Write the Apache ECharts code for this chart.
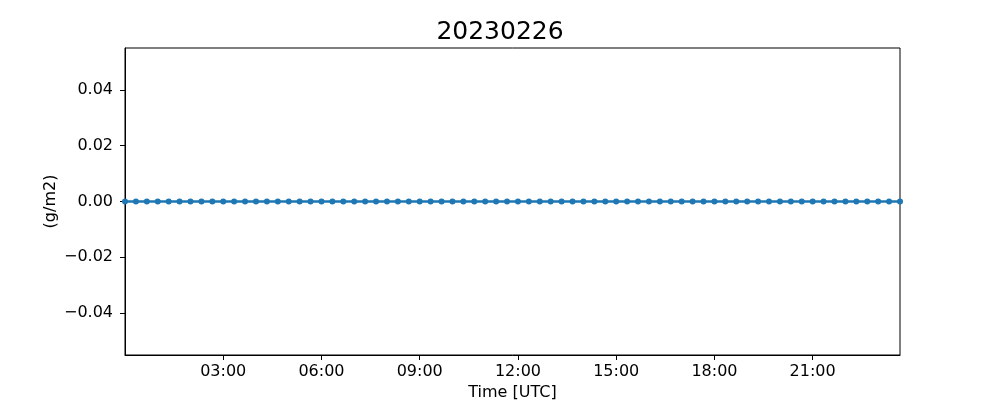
<!DOCTYPE html>
<html>
<head>
<meta charset="utf-8">
<script src="https://cdn.jsdelivr.net/npm/echarts@6/dist/echarts.min.js"></script>
<style>html,body{margin:0;padding:0;background:#fff}#c{width:1000px;height:400px}</style>
</head>
<body>
<div id="c"></div>
<script>
var chartTitle = "20230226";
var times = [
"00:00","00:20","00:40","01:00","01:20","01:40","02:00","02:20","02:40",
"03:00","03:20","03:40","04:00","04:20","04:40","05:00","05:20","05:40",
"06:00","06:20","06:40","07:00","07:20","07:40","08:00","08:20","08:40",
"09:00","09:20","09:40","10:00","10:20","10:40","11:00","11:20","11:40",
"12:00","12:20","12:40","13:00","13:20","13:40","14:00","14:20","14:40",
"15:00","15:20","15:40","16:00","16:20","16:40","17:00","17:20","17:40",
"18:00","18:20","18:40","19:00","19:20","19:40","20:00","20:20","20:40",
"21:00","21:20","21:40","22:00","22:20","22:40","23:00","23:20","23:40"
];
var values = [
0,0,0,0,0,0,0,0,0,
0,0,0,0,0,0,0,0,0,
0,0,0,0,0,0,0,0,0,
0,0,0,0,0,0,0,0,0,
0,0,0,0,0,0,0,0,0,
0,0,0,0,0,0,0,0,0,
0,0,0,0,0,0,0,0,0,
0,0,0,0,0,0,0,0,0
];
var xTickLabels = ["03:00","06:00","09:00","12:00","15:00","18:00","21:00"];
var yTicks = [-0.04, -0.02, 0.00, 0.02, 0.04];
var yMin = -0.055, yMax = 0.055;

// time of day "HH:MM" -> minutes since midnight
function mins(hm){ var p = hm.split(':'); return (+p[0]) * 60 + (+p[1]); }
function fmt(v){ var h = Math.floor(v / 60), m = Math.round(v - h * 60); return (h<10?'0':'')+h+':'+(m<10?'0':'')+m; }
var seriesData = times.map(function(t, i){ return [mins(t), values[i]]; });
var xTicks = xTickLabels.map(mins);

var font = "DejaVu Sans";
var fs = 16;
var chart = echarts.init(document.getElementById('c'), null, {renderer: 'canvas'});
chart.setOption({
  animation: false,
  backgroundColor: '#ffffff',
  title: {
    text: chartTitle, left: 'center', top: 15,
    textStyle: {fontFamily: font, fontSize: 25, fontWeight: 'normal', color: '#000'}
  },
  grid: {left: 125, right: 100, top: 48, bottom: 45, outerBoundsMode: 'none', containLabel: false,
         show: true, borderColor: '#000', borderWidth: 1, backgroundColor: 'transparent'},
  xAxis: {
    type: 'value',
    min: mins(times[0]), max: mins(times[times.length - 1]),
    name: 'Time [UTC]', nameLocation: 'middle', nameGap: 30, nameMoveOverlap: false,
    nameTextStyle: {fontFamily: font, fontSize: fs, color: '#000'},
    axisLine: {show: true, onZero: false, lineStyle: {color: '#000', width: 1}},
    axisTick: {show: true, length: 5, customValues: xTicks, lineStyle: {color: '#000'}},
    axisLabel: {
      customValues: xTicks, margin: 9, fontFamily: font, fontSize: fs, color: '#000',
      formatter: fmt
    },
    splitLine: {show: false}
  },
  yAxis: {
    type: 'value', min: yMin, max: yMax,
    name: '(g/m2)', nameLocation: 'middle', nameGap: 66, nameMoveOverlap: false,
    nameTextStyle: {fontFamily: font, fontSize: fs, color: '#000'},
    axisLine: {show: true, onZero: false, lineStyle: {color: '#000', width: 1}},
    axisTick: {show: true, length: 5, customValues: yTicks, lineStyle: {color: '#000'}},
    axisLabel: {
      customValues: yTicks, margin: 12, fontFamily: font, fontSize: fs, color: '#000',
      formatter: function(v){ var s = (Math.abs(v) < 1e-9 ? 0 : v).toFixed(2); return s.replace('-', '\u2212'); }
    },
    splitLine: {show: false}
  },
  series: [{
    type: 'line', data: seriesData,
    symbol: 'circle', symbolSize: 6, showSymbol: true,
    lineStyle: {color: '#1f77b4', width: 2.5},
    itemStyle: {color: '#1f77b4', borderWidth: 0},
    clip: false
  }]
});
</script>
</body>
</html>
